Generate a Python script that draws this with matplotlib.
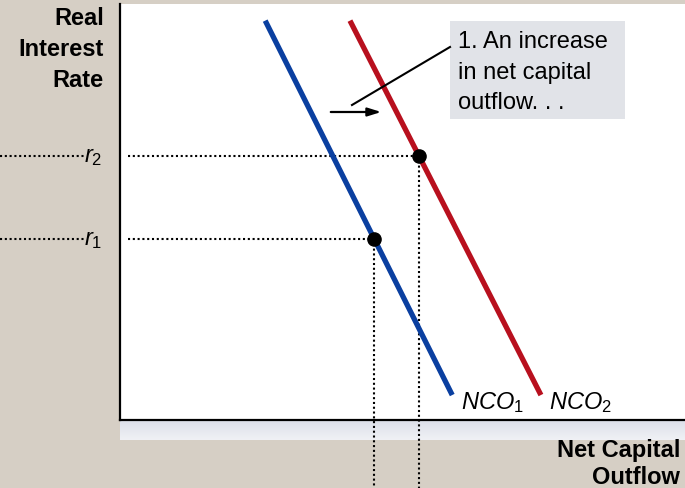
import numpy as np
import matplotlib
matplotlib.use("Agg")
import matplotlib.pyplot as plt
from matplotlib.patches import Rectangle
from matplotlib.colors import LinearSegmentedColormap

plt.rcParams['font.family'] = ['Liberation Sans', 'DejaVu Sans']
plt.rcParams['mathtext.fontset'] = 'custom'
plt.rcParams['mathtext.rm'] = 'Liberation Sans'
plt.rcParams['mathtext.it'] = 'Liberation Sans:italic'

# Net capital outflow curves (x = NCO, y = real interest rate)
rate_span = [96.0, 6.0]
nco1_x = [25.7, 58.8]
nco2_x = [40.7, 74.5]
r1 = 43.5
r2 = 63.5
curve_labels = [r'$\mathit{NCO}_{\mathrm{1}}$', r'$\mathit{NCO}_{\mathrm{2}}$']
note_text = "1. An increase\nin net capital\noutflow. . ."

W, H = 685, 489
BG = '#d6cfc5'
fig = plt.figure(figsize=(W / 100, H / 100), dpi=100, facecolor=BG)

ax_l, ax_r, ax_t, ax_b = 120, 685, 5, 421
ax = fig.add_axes([ax_l / W, 1 - ax_b / H, (ax_r - ax_l) / W, (ax_b - ax_t) / H])
ax.set_xlim(0, 100)
ax.set_ylim(0, 100)
ax.set_facecolor('white')
for s in ['top', 'right']:
    ax.spines[s].set_visible(False)
for s in ['left', 'bottom']:
    ax.spines[s].set_linewidth(1.6)
    ax.spines[s].set_color('black')
ax.set_xticks([])
ax.set_yticks([])

# shadow strip under the horizontal axis
sh = fig.add_axes([ax_l / W, 1 - 441 / H, (ax_r - ax_l) / W, 20 / H])
grad = np.linspace(0, 1, 50).reshape(-1, 1)
cm = LinearSegmentedColormap.from_list('sh', ['#dce0e9', '#f0f1f5'])
sh.imshow(grad, aspect='auto', cmap=cm, extent=[0, 1, 0, 1], origin='upper')
sh.axis('off')
sh.set_zorder(0)
ax.set_zorder(1)

blue = '#0a3fa0'
red = '#b8101e'
ax.plot(nco1_x, rate_span, color=blue, lw=3.8, solid_capstyle='butt', zorder=3)
ax.plot(nco2_x, rate_span, color=red, lw=3.8, solid_capstyle='butt', zorder=3)

# equilibrium points
x1 = np.interp(r1, rate_span[::-1], nco1_x[::-1])
x2 = np.interp(r2, rate_span[::-1], nco2_x[::-1])
ax.plot([x1], [r1], 'o', color='black', ms=9.5, zorder=5)
ax.plot([x2], [r2], 'o', color='black', ms=9.5, zorder=5)

dot = dict(color='black', lw=1.5, linestyle=(0, (1, 1.3)), zorder=2)
x_left_out = -120 / 565 * 100
x_label_gap = -35 / 565 * 100
x_in = 8 / 565 * 100
y_bottom_out = -80 / 416 * 100
for xx, yy in [(x1, r1), (x2, r2)]:
    ax.plot([x_in, xx], [yy, yy], **dot)
    ax.plot([x_left_out, x_label_gap], [yy, yy], clip_on=False, **dot)
    ax.plot([xx, xx], [yy, y_bottom_out], clip_on=False, **dot)

ax.text(-3.2, r2, r'$r_{\mathrm{2}}$', fontsize=17, ha='right', va='center', clip_on=False)
ax.text(-3.2, r1, r'$r_{\mathrm{1}}$', fontsize=17, ha='right', va='center', clip_on=False)

ax.text(nco1_x[1] + 1.5, rate_span[1] - 1.5, curve_labels[0], fontsize=17, ha='left', va='center')
ax.text(nco2_x[1] + 1.5, rate_span[1] - 1.5, curve_labels[1], fontsize=17, ha='left', va='center')

# annotation box
bx0, bx1 = (450 - 120) / 565 * 100, (625 - 120) / 565 * 100
by1, by0 = (421 - 22) / 416 * 100, (421 - 120) / 416 * 100
ax.add_patch(Rectangle((bx0, by0), bx1 - bx0, by1 - by0, facecolor='#e1e3e8', edgecolor='none', zorder=4))
ax.text(bx0 + 1.4, (by0 + by1) / 2 - 0.4, note_text, fontsize=17, ha='left', va='center',
        linespacing=1.5, zorder=6)
ax.plot([bx0, (352 - 120) / 565 * 100], [(421 - 48) / 416 * 100, (421 - 106) / 416 * 100],
        color='black', lw=1.5, zorder=6)
ax.annotate('', xy=((384 - 120) / 565 * 100, (421 - 113) / 416 * 100),
            xytext=((328 - 120) / 565 * 100, (421 - 113) / 416 * 100),
            arrowprops=dict(arrowstyle='-|>,head_length=0.8,head_width=0.25', color='black', lw=1.6),
            zorder=6)

fig.text(104 / W, 1 - 7 / H, "Real\nInterest\nRate", fontsize=17, fontweight='bold',
         ha='right', va='top', linespacing=1.45)
fig.text(680 / W, 1 - 439 / H, "Net Capital\nOutflow", fontsize=17, fontweight='bold',
         ha='right', va='top', linespacing=1.22)

fig.savefig('out.png', dpi=100, facecolor=BG)
